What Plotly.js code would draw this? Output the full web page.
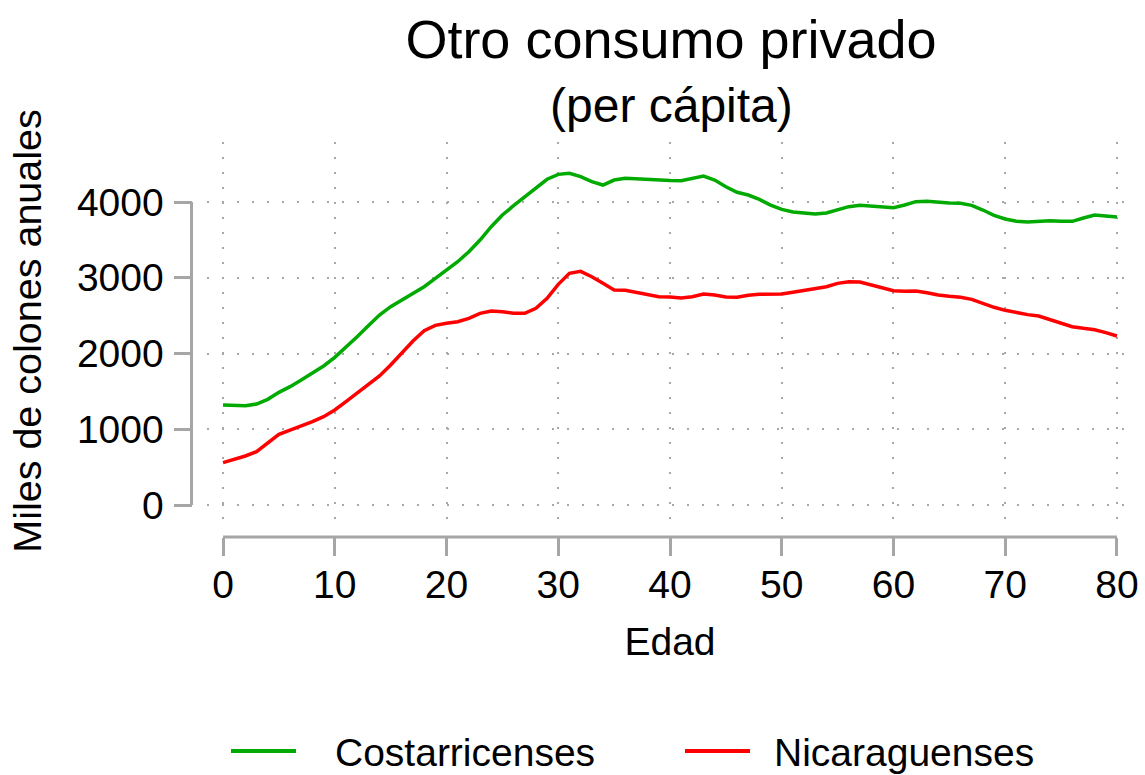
<!DOCTYPE html>
<html>
<head>
<meta charset="utf-8">
<script src="https://cdn.plot.ly/plotly-3.0.1.min.js"></script>
<style>html,body{margin:0;padding:0;background:#fff;}#chart{width:1145px;height:775px;}</style>
</head>
<body>
<div id="chart"></div>
<script>
const edad = [];
for (let i = 0; i <= 80; i++) edad.push(i);

const costarricenses = [
  1320, 1320, 1310, 1333, 1395, 1487, 1562, 1650, 1738, 1835,
  1950, 2082, 2222, 2367, 2508, 2618, 2706, 2785, 2882, 2992,
  3102, 3212, 3344, 3498, 3674, 3828, 3951, 4070, 4189, 4300,
  4365, 4378, 4334, 4268, 4224, 4290, 4312, 4303, 4295, 4285,
  4283, 4281, 4312, 4343, 4290, 4202, 4128, 4092, 4035, 3960,
  3903, 3868, 3855, 3842, 3855, 3894, 3938, 3956, 3947, 3934,
  3925, 3960, 4004, 4009, 3996, 3987, 3982, 3956, 3894, 3824,
  3776, 3745, 3736, 3749, 3753, 3745, 3745, 3789, 3828, 3815,
  3802
];

const nicaraguenses = [
  559, 603, 647, 704, 823, 933, 990, 1043, 1100, 1166,
  1254, 1364, 1474, 1584, 1703, 1848, 2002, 2165, 2301, 2372,
  2398, 2420, 2464, 2530, 2561, 2552, 2530, 2530, 2596, 2728,
  2913, 3058, 3085, 3014, 2926, 2838, 2834, 2808, 2772, 2750,
  2745, 2733, 2750, 2785, 2772, 2746, 2742, 2768, 2781, 2781,
  2785, 2808, 2834, 2856, 2882, 2926, 2948, 2944, 2904, 2860,
  2829, 2821, 2825, 2803, 2772, 2755, 2742, 2715, 2662, 2610,
  2570, 2539, 2513, 2495, 2451, 2398, 2354, 2332, 2314, 2275,
  2231
];

const xTicks = [0, 10, 20, 30, 40, 50, 60, 70, 80];
const yTicks = [0, 1000, 2000, 3000, 4000];
const seriesNames = ['Costarricenses', 'Nicaraguenses'];
const seriesColors = ['#00AA00', '#FF0000'];

const FONT = 'Liberation Sans, Arial, Helvetica, sans-serif';
const W = 1145, H = 775;
const axisGray = '#a6a6a6';
const FS = 39;

const traces = [
  {x: edad, y: costarricenses, name: seriesNames[0], type: 'scatter', mode: 'lines',
   line: {color: seriesColors[0], width: 3.5}},
  {x: edad, y: nicaraguenses, name: seriesNames[1], type: 'scatter', mode: 'lines',
   line: {color: seriesColors[1], width: 3.5}}
];

const legendItems = [
  {x0: 231, x1: 296, tx: 333},
  {x0: 685, x1: 750, tx: 772}
];
const legY = 752;

const shapes = [
  {type: 'line', xref: 'x', yref: 'paper', x0: xTicks[0], x1: xTicks[xTicks.length-1],
   y0: (H-537)/H, y1: (H-537)/H, line: {color: axisGray, width: 3}},
  {type: 'line', xref: 'paper', yref: 'y', x0: 191.5/W, x1: 191.5/W,
   y0: yTicks[0], y1: yTicks[yTicks.length-1], line: {color: axisGray, width: 3}}
];
const annotations = [
  {text: '(per cápita)', xref: 'paper', yref: 'paper', x: 671/W, y: 1 - 106/H,
   xanchor: 'center', yanchor: 'middle', showarrow: false,
   font: {family: FONT, size: 48, color: '#000'}}
];
legendItems.forEach((it, i) => {
  shapes.push({type: 'line', xref: 'paper', yref: 'paper', x0: it.x0/W, x1: it.x1/W,
    y0: 1 - 751/H, y1: 1 - 751/H, line: {color: seriesColors[i], width: 4}});
  annotations.push({text: seriesNames[i], xref: 'paper', yref: 'paper', x: it.tx/W, y: 1 - legY/H,
    xanchor: 'left', yanchor: 'middle', showarrow: false,
    font: {family: FONT, size: FS, color: '#000'}});
});

const layout = {
  width: W, height: H,
  margin: {l: 0, r: 0, t: 0, b: 0},
  paper_bgcolor: '#fff', plot_bgcolor: '#fff',
  showlegend: false,
  font: {family: FONT, size: FS, color: '#000'},
  title: {text: 'Otro consumo privado', font: {family: FONT, size: 54, color: '#000'},
          xref: 'paper', x: 671/W, xanchor: 'center', yref: 'paper', y: 1 - 39/H, yanchor: 'middle'},
  xaxis: {
    domain: [207.4/W, 1132.6/W], range: [-1.4, 81.4],
    anchor: 'free', position: (H-537)/H,
    tickvals: xTicks, ticktext: xTicks.map(String),
    ticks: 'outside', ticklen: 18, tickwidth: 3, tickcolor: axisGray,
    ticklabelstandoff: -5,
    showline: false, zeroline: false,
    showgrid: true, gridcolor: '#a8a8a8', gridwidth: 2, griddash: '2px,13px',
    tickfont: {family: FONT, size: FS, color: '#000'},
    title: {text: 'Edad', font: {family: FONT, size: FS, color: '#000'}, standoff: 22},
    automargin: false
  },
  yaxis: {
    domain: [(H-520)/H, (H-142)/H], range: [-198, 4792],
    anchor: 'free', position: 191.5/W,
    tickvals: yTicks, ticktext: yTicks.map(String),
    ticks: 'outside', ticklen: 18, tickwidth: 3, tickcolor: axisGray,
    ticklabelstandoff: 2,
    showline: false, zeroline: false,
    showgrid: true, gridcolor: '#a8a8a8', gridwidth: 2, griddash: '2px,13px',
    tickfont: {family: FONT, size: FS, color: '#000'},
    title: {text: 'Miles de colones anuales\u00a0\u2009', font: {family: FONT, size: 39.5, color: '#000'}, standoff: 22},
    automargin: false
  },
  shapes: shapes,
  annotations: annotations
};

Plotly.newPlot('chart', traces, layout, {displayModeBar: false, staticPlot: true});
</script>
</body>
</html>
